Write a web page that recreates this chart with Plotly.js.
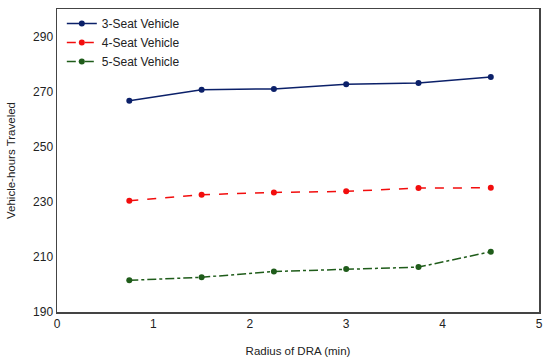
<!DOCTYPE html>
<html><head><meta charset="utf-8">
<script src="https://cdn.plot.ly/plotly-3.0.1.min.js"></script>
<style>html,body{margin:0;padding:0;background:#fff}#chart{width:550px;height:362px}</style>
</head><body><div id="chart"></div>
<script>
const radius = [0.75, 1.5, 2.25, 3, 3.75, 4.5];
const seat3 = [266.7, 270.7, 271.0, 272.7, 273.1, 275.3];
const seat4 = [230.4, 232.6, 233.4, 233.8, 235.0, 235.1];
const seat5 = [201.5, 202.6, 204.7, 205.6, 206.3, 211.9];
const names = ['3-Seat Vehicle', '4-Seat Vehicle', '5-Seat Vehicle'];
const colors = ['#0B2069', '#F20D0D', '#1F5C1A'];
const dashes = ['solid', 'dash', 'dashdot'];
const series = [seat3, seat4, seat5];
const traces = series.map((s, i) => ({
  x: radius, y: s, name: names[i], type: 'scatter', mode: 'lines+markers',
  line: {color: colors[i], width: 1.5, dash: dashes[i]},
  marker: {color: colors[i], size: 6}
}));
const font = 'Liberation Sans, Arial, sans-serif';
Plotly.newPlot('chart', traces, {
  width: 550, height: 362,
  margin: {l: 57, r: 11, t: 9, b: 50},
  paper_bgcolor: '#fff', plot_bgcolor: '#fff',
  font: {family: font, size: 12, color: '#222'},
  showlegend: true,
  legend: {x: 0.01, y: 1.0, xanchor: 'left', yanchor: 'top', bgcolor: 'rgba(0,0,0,0)',
           font: {size: 12, color: '#222'}, tracegroupgap: 0, itemwidth: 30},
  xaxis: {range: [0, 5], dtick: 1, showgrid: false, zeroline: false, showline: true, mirror: true,
          linecolor: '#444', linewidth: 1.5, ticks: '', tickfont: {size: 12},
          title: {text: 'Radius of DRA (min)', font: {size: 11.5}, standoff: 17}},
  yaxis: {range: [190, 300], tickvals: [190, 210, 230, 250, 270, 290], showgrid: false, zeroline: false,
          showline: true, mirror: true, linecolor: '#444', linewidth: 1.5, ticks: '', tickfont: {size: 12},
          title: {text: 'Vehicle-hours Traveled', font: {size: 11.5}, standoff: 15}}
}, {displayModeBar: false, staticPlot: true});
</script></body></html>
